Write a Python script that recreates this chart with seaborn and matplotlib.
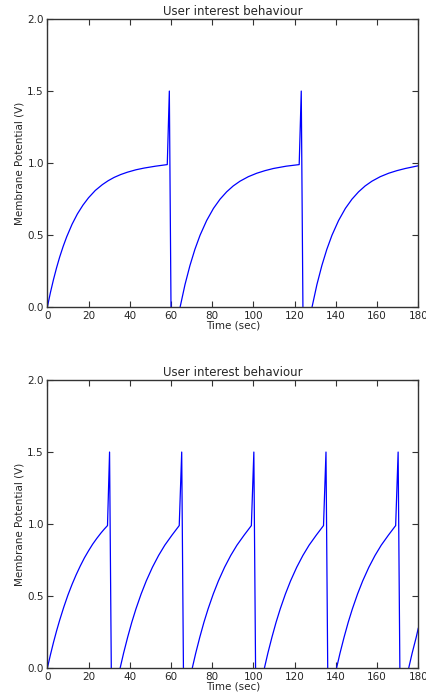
import numpy as np
import pandas as pd
import matplotlib
matplotlib.use("Agg")
import matplotlib.pyplot as plt
import seaborn as sns

# membrane potential (values below 0 are clipped by the axes)
top_t = [0, 1.5, 3, 4.5, 6, 7.7, 9.4, 12, 14.6, 17.3, 20, 23.3, 26.7, 29.5, 32.4, 35.6, 38.8, 43, 47, 52.5, 58.2,
         59.2, 60.2,
         62, 64.4, 66.8, 69.2, 71.6, 74.1, 77.3, 80.6, 83.8, 87, 90.2, 93.5, 97.5, 101.6, 105.6, 109.7, 115.9, 122.2,
         123.2, 124.2,
         126, 128.4, 130.8, 133.2, 135.6, 138.1, 141.3, 144.6, 147.8, 151, 154.2, 157.5, 161.5, 165.6, 169.6, 173.7,
         180]
top_v = [0, 0.102, 0.193, 0.275, 0.349, 0.423, 0.489, 0.576, 0.648, 0.709, 0.76, 0.811, 0.851, 0.878, 0.901, 0.921,
         0.937, 0.954, 0.966, 0.979, 0.99,
         1.5, -0.35,
         -0.187, 0, 0.158, 0.29, 0.402, 0.5, 0.602, 0.686, 0.75, 0.801, 0.842, 0.875, 0.906, 0.93, 0.948, 0.963,
         0.979, 0.99,
         1.5, -0.35,
         -0.187, 0, 0.158, 0.29, 0.402, 0.5, 0.602, 0.686, 0.75, 0.801, 0.842, 0.875, 0.906, 0.93, 0.948, 0.963,
         0.982]

bottom_t = [0, 1.5, 3, 4.5, 6, 8, 10, 12, 14, 16, 18, 20, 22, 24, 26, 27.6, 29.2, 30.2, 31.2,
            33, 35.3, 37, 39, 41, 43, 45.5, 48, 51, 54, 57, 60.5, 64, 65.2, 66.2,
            68, 70.3, 72, 74, 76, 78, 80.5, 83, 86, 89, 92, 95.5, 99, 100.2, 101.2,
            103, 105.3, 107, 109, 111, 113, 115.5, 118, 121, 124, 127, 130.5, 134, 135.2, 136.2,
            138, 140.3, 142, 144, 146, 148, 150.5, 153, 156, 159, 162, 165.5, 169, 170.2, 171.2,
            173, 175.3, 177, 179, 180]
bottom_v = [0, 0.093, 0.18, 0.26, 0.334, 0.425, 0.508, 0.582, 0.649, 0.71, 0.766, 0.815, 0.861, 0.901, 0.938,
            0.965, 0.99, 1.5, -0.29,
            -0.158, 0, 0.105, 0.217, 0.32, 0.412, 0.515, 0.606, 0.701, 0.783, 0.854, 0.924, 0.99, 1.5, -0.29,
            -0.158, 0, 0.105, 0.217, 0.32, 0.412, 0.515, 0.606, 0.701, 0.783, 0.854, 0.924, 0.99, 1.5, -0.29,
            -0.158, 0, 0.105, 0.217, 0.32, 0.412, 0.515, 0.606, 0.701, 0.783, 0.854, 0.924, 0.99, 1.5, -0.29,
            -0.158, 0, 0.105, 0.217, 0.32, 0.412, 0.515, 0.606, 0.701, 0.783, 0.854, 0.924, 0.99, 1.5, -0.29,
            -0.158, 0, 0.105, 0.217, 0.28]

x_ticks = [0, 20, 40, 60, 80, 100, 120, 140, 160, 180]
y_ticks = [0.0, 0.5, 1.0, 1.5, 2.0]

sns.set_style("ticks")
plt.rcParams["font.family"] = ["DejaVu Sans"]
plt.rcParams["xtick.direction"] = "in"
plt.rcParams["ytick.direction"] = "in"

fig = plt.figure(figsize=(4.27, 6.95), dpi=100)
ax1 = fig.add_axes([0.1108, 0.5578, 0.8689, 0.4149])
ax2 = fig.add_axes([0.1108, 0.0384, 0.8689, 0.4149])

for ax, t, v in [(ax1, top_t, top_v), (ax2, bottom_t, bottom_v)]:
    df = pd.DataFrame({"t": t, "v": v})
    sns.lineplot(data=df, x="t", y="v", ax=ax, color="#0000ff", lw=0.9,
                 estimator=None, sort=False)
    ax.set_xlim(0, 180)
    ax.set_ylim(0, 2)
    ax.set_xticks(x_ticks)
    ax.set_yticks(y_ticks)
    ax.set_yticklabels([f"{y:.1f}" for y in y_ticks])
    ax.tick_params(which="both", top=True, right=True, length=4, width=0.8,
                   labelsize=7.5, pad=2.5, color="#333333")
    for s in ax.spines.values():
        s.set_linewidth(1.0)
        s.set_color("#333333")
    ax.set_title("User interest behaviour", fontsize=8.5, pad=3)
    ax.set_xlabel("Time (sec)", fontsize=7.5, labelpad=0)
    ax.set_ylabel("Membrane Potential (V)", fontsize=7.5, labelpad=2)

fig.savefig("out.png", dpi=100, facecolor="white")
